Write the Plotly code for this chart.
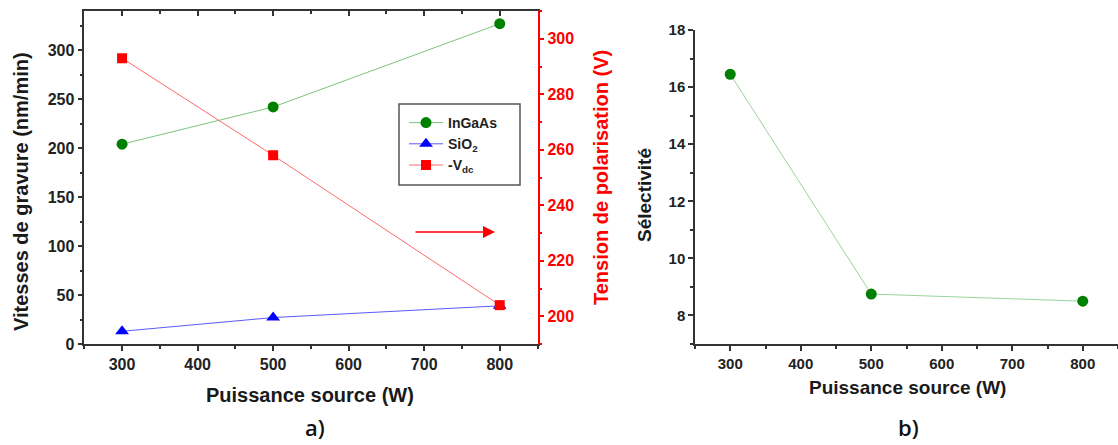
import plotly.graph_objects as go

# ---- data ----
power = [300, 500, 800]
ingaas_rate = [204, 242, 327]
sio2_rate = [13, 27, 39]
vdc = [293, 258, 204]
selectivity = [16.45, 8.75, 8.5]

W, H = 1118, 445
FONT = "Liberation Sans, Arial, sans-serif"
AX = "#333333"

def px(x):
    return x / W

def py(y):
    return (H - y) / H

fig = go.Figure()

fig.add_trace(go.Scatter(
    x=power, y=ingaas_rate, name="InGaAs", mode="lines+markers",
    line=dict(color="#7cc47c", width=1),
    marker=dict(symbol="circle", size=11, color="#008000"),
    xaxis="x", yaxis="y"))
fig.add_trace(go.Scatter(
    x=power, y=sio2_rate, name="SiO<sub>2</sub>", mode="lines+markers",
    line=dict(color="#5a5aff", width=1),
    marker=dict(symbol="triangle-up", size=12, color="#0000ff"),
    xaxis="x", yaxis="y"))
fig.add_trace(go.Scatter(
    x=power, y=vdc, name="-V<sub>dc</sub>", mode="lines+markers",
    line=dict(color="#ff6a6a", width=1),
    marker=dict(symbol="square", size=10, color="#ff0000"),
    xaxis="x", yaxis="y2"))
fig.add_trace(go.Scatter(
    x=power, y=selectivity, name="Sélectivité", mode="lines+markers",
    line=dict(color="#9ad49a", width=1),
    marker=dict(symbol="circle", size=11, color="#008000"),
    xaxis="x2", yaxis="y3", showlegend=False))
# helper (empty) trace so the mirrored top axis of panel a is drawn
fig.add_trace(go.Scatter(x=[None], y=[None], xaxis="x3", yaxis="y", showlegend=False,
                         hoverinfo="skip"))

tickfont = dict(family=FONT, size=16, color="#222222", weight="bold")
tickfont_b = dict(family=FONT, size=15, color="#222222", weight="bold")

a_dom_x = [px(84.3), px(537.5)]
a_dom_y = [py(344), py(11)]
b_dom_x = [px(695), 1.0]
b_dom_y = [py(344), py(30)]

def xax(**kw):
    d = dict(range=[250, 850], dtick=100, showgrid=False, zeroline=False, automargin=False,
             showline=True, linecolor=AX, linewidth=1.5,
             ticks="outside", ticklen=5, tickwidth=1.5, tickcolor=AX,
             minor=dict(dtick=50, ticks="outside", ticklen=3, tickwidth=1.5, tickcolor=AX))
    d.update(kw)
    return d

fig.update_layout(
    template="none",
    width=W, height=H,
    margin=dict(l=0, r=0, t=0, b=0, autoexpand=False),
    paper_bgcolor="white", plot_bgcolor="white",
    showlegend=True,
    legend=dict(x=px(404), y=py(107), xanchor="left", yanchor="top",
                bgcolor="rgba(0,0,0,0)", borderwidth=0,
                font=dict(family=FONT, size=14, color="#222222", weight="bold"),
                tracegroupgap=0, itemwidth=34),
    xaxis=xax(domain=a_dom_x, anchor="y", tickfont=tickfont),
    xaxis3=xax(domain=a_dom_x, anchor="y", overlaying="x", side="top",
               showticklabels=False, ticks="inside",
               minor=dict(dtick=50, ticks="inside", ticklen=3, tickwidth=1.5, tickcolor=AX)),
    yaxis=dict(domain=a_dom_y, anchor="x", range=[0, 340], dtick=50, automargin=False,
               showgrid=False, zeroline=False, showline=True, linecolor=AX, linewidth=1.5,
               ticks="outside", ticklen=5, tickwidth=1.5, tickcolor=AX, tickfont=tickfont,
               minor=dict(dtick=25, ticks="outside", ticklen=3, tickwidth=1.5, tickcolor=AX)),
    yaxis2=dict(domain=a_dom_y, anchor="x", overlaying="y", side="right", automargin=False,
                range=[190, 310], dtick=20, showgrid=False, zeroline=False,
                showline=True, linecolor="#ff0000", linewidth=1.5,
                ticks="outside", ticklen=5, tickwidth=1.5, tickcolor="#ff0000",
                tickfont=dict(family=FONT, size=16, color="#ff0000", weight="bold"),
                minor=dict(dtick=10, ticks="outside", ticklen=3, tickwidth=1.5, tickcolor="#ff0000")),
    xaxis2=xax(domain=b_dom_x, anchor="y3", tickfont=tickfont_b),
    yaxis3=dict(domain=b_dom_y, anchor="x2", range=[7, 18], dtick=2, tick0=0, automargin=False,
                showgrid=False, zeroline=False, showline=True, linecolor=AX, linewidth=1.5,
                ticks="outside", ticklen=5, tickwidth=1.5, tickcolor=AX, tickfont=tickfont_b,
                minor=dict(dtick=1, ticks="outside", ticklen=3, tickwidth=1.5, tickcolor=AX)),
)

# legend frame (matches the boxed legend of the original)
fig.add_shape(type="rect", xref="paper", yref="paper",
              x0=px(399), x1=px(520), y0=py(185), y1=py(104),
              line=dict(color="#555555", width=1.5), fillcolor="white", layer="above")

title_font = dict(family=FONT, size=20, color="#1a1a1a", weight="bold")
title_font_b = dict(family=FONT, size=19, color="#1a1a1a", weight="bold")
label_font = dict(family="Open Sans, Liberation Sans, sans-serif", size=22,
                  color="#111111", weight=600)
annotations = [
    dict(text="Vitesses de gravure (nm/min)", x=px(21), y=py(192), textangle=-90,
         font=title_font),
    dict(text="Tension de polarisation (V)", x=px(601), y=py(178), textangle=-90,
         font=dict(family=FONT, size=20, color="#ff0000", weight="bold")),
    dict(text="Puissance source (W)", x=px(310), y=py(395), font=title_font),
    dict(text="Sélectivité", x=px(645), y=py(195), textangle=-90, font=title_font_b),
    dict(text="Puissance source (W)", x=px(907), y=py(387), font=title_font_b),
    dict(text="a)", x=px(315), y=py(427), font=label_font),
    dict(text="b)", x=px(908), y=py(427), font=label_font),
]
for a in annotations:
    a.update(xref="paper", yref="paper", showarrow=False, xanchor="center", yanchor="middle",
             borderpad=0)

# red arrow pointing to the right axis
annotations.append(dict(x=px(495), y=py(232), xref="paper", yref="paper",
                        ax=-81, ay=0, axref="pixel", ayref="pixel", text="",
                        showarrow=True, arrowhead=2, arrowsize=1.6, arrowwidth=1.5,
                        arrowcolor="#ff0000"))
fig.update_layout(annotations=annotations)

fig.write_html("out.html", config={"displayModeBar": False},
               post_script="document.body.style.margin='0';document.body.style.overflow='hidden';")
